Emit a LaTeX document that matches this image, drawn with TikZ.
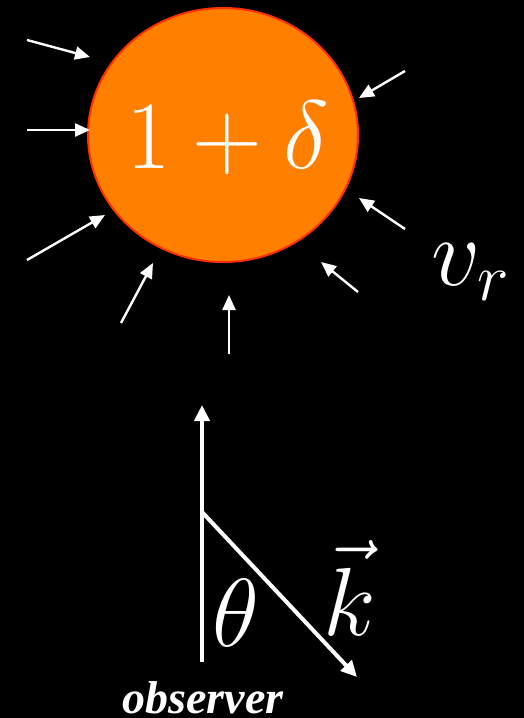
\documentclass[tikz,border=0pt]{standalone}
\usepackage{amsmath,amssymb}
\usepackage{graphicx}
\usepackage{fontspec}
\usepackage{tikz}
\usetikzlibrary{arrows.meta,shapes.geometric}
\newfontfamily\obsfont{Liberation Serif}
\definecolor{Blob}{HTML}{FF7F00}
\definecolor{BlobEdge}{HTML}{FF3000}
\newcommand{\bigmath}[1]{\scalebox{2.8}{\LARGE$#1$}}
\tikzset{
  inflow/.style={-{Triangle[length=7.5pt,width=6.5pt]},line width=1.2pt,white},
  axis/.style={-{Triangle[length=8pt,width=7.5pt]},line width=2pt,white},
  big/.style={text=white,inner sep=0pt},
}

\begin{document}
\begin{tikzpicture}[x=0.5pt,y=-0.5pt]
  \fill[black] (0,0) rectangle (524,718);
  \useasboundingbox (0,0) rectangle (524,718);
  \node[ellipse,draw=BlobEdge,line width=1pt,fill=Blob,inner sep=0pt,
        minimum width=135pt,minimum height=127pt] (blob) at (223,135) {};
  \node[big] (dens) at (228,138) {\bigmath{1+\delta}};
  % matter falling in
  \foreach \i/\xa/\ya/\xb/\yb in {1/27/40/90/57, 2/27/130/90/130, 3/27/260/105/215,
      4/121/323/153/263, 5/229/354/229/295, 6/358/292/321/262,
      7/405/229/359/198, 8/405/71/359/98} {
    \coordinate (t\i) at (\xa,\ya);
    \coordinate (h\i) at (\xb,\yb);
    \draw[inflow] (t\i) -- (h\i);
  }
  \node[big] (vr) at (472,272) {\bigmath{v_r}};
  % line of sight
  \coordinate (obs) at (202,662);
  \coordinate (los) at (202,405);
  \coordinate (kink) at (202,512);
  \coordinate (kend) at (357,677);
  \draw[axis] (obs) -- (los);
  \draw[axis] (kink) -- (kend);
  \node[big] (theta) at (236,613) {\bigmath{\theta}};
  \node[big] (kvec) at (350,588) {\bigmath{\vec{k}}};
  \node[text=white,anchor=base,inner sep=0pt,font=\obsfont\bfseries\itshape\fontsize{23}{25}\selectfont] (obslabel) at (203,713) {observer};
\end{tikzpicture}
\end{document}
